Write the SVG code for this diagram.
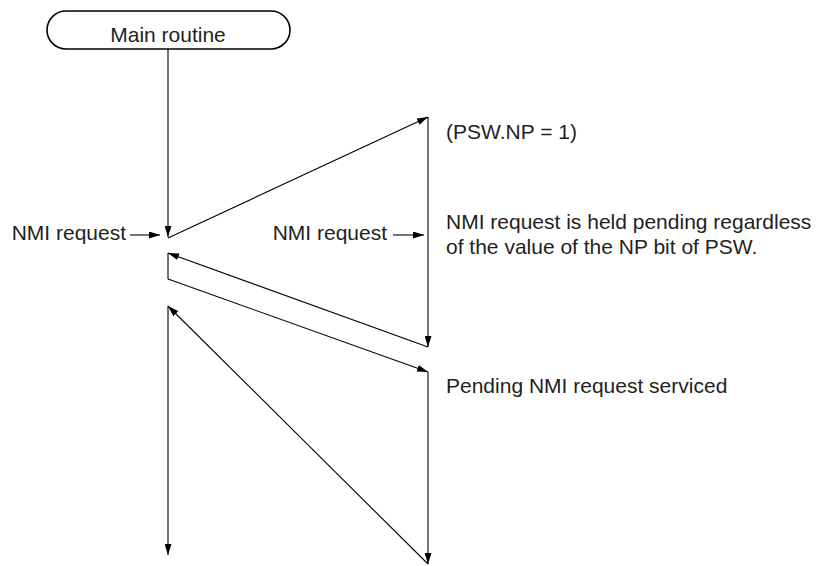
<svg xmlns="http://www.w3.org/2000/svg" width="818" height="566" viewBox="0 0 818 566">
<style>
text{font-family:"Liberation Sans",Arial,Helvetica,sans-serif;font-size:21px;fill:#231f20}
.ln{fill:none;stroke:#000;stroke-width:1.1}
.box{fill:#fff;stroke:#000;stroke-width:1.6}
</style>
<defs>
<marker id="ah" markerUnits="userSpaceOnUse" markerWidth="11" markerHeight="7" refX="11" refY="3.5" orient="auto" viewBox="0 0 11 7">
<path d="M0,0 L11,3.5 L0,7 z" fill="#000"/>
</marker>
</defs>
<g id="main-routine">
<rect class="box" x="47" y="11" width="243" height="38" rx="19" ry="19"/>
<text x="168" y="42" text-anchor="middle">Main routine</text>
</g>
<g id="connectors">
<line class="ln" x1="168" y1="49" x2="168" y2="237" marker-end="url(#ah)"/>
<line class="ln" x1="168" y1="238" x2="428" y2="117" marker-end="url(#ah)"/>
<line class="ln" x1="428" y1="117" x2="428" y2="347" marker-end="url(#ah)"/>
<line class="ln" x1="428" y1="347" x2="168" y2="253" marker-end="url(#ah)"/>
<line class="ln" x1="168" y1="253" x2="168" y2="279"/>
<line class="ln" x1="168" y1="279" x2="428" y2="372" marker-end="url(#ah)"/>
<line class="ln" x1="428" y1="372" x2="428" y2="564" marker-end="url(#ah)"/>
<line class="ln" x1="428" y1="564" x2="168" y2="306" marker-end="url(#ah)"/>
<line class="ln" x1="168" y1="306" x2="168" y2="555" marker-end="url(#ah)"/>
<line class="ln" x1="130" y1="235" x2="160" y2="235" marker-end="url(#ah)"/>
<line class="ln" x1="393" y1="235" x2="424" y2="235" marker-end="url(#ah)"/>
</g>
<g id="nmi-request-1">
<text x="126" y="240" text-anchor="end">NMI request</text>
</g>
<g id="nmi-request-2">
<text x="387" y="240" text-anchor="end">NMI request</text>
</g>
<g id="label-psw">
<text x="446" y="139">(PSW.NP = 1)</text>
</g>
<g id="label-held">
<text x="446" y="229">NMI request is held pending regardless</text>
<text x="446" y="254">of the value of the NP bit of PSW.</text>
</g>
<g id="label-serviced">
<text x="446" y="393">Pending NMI request serviced</text>
</g>
</svg>
